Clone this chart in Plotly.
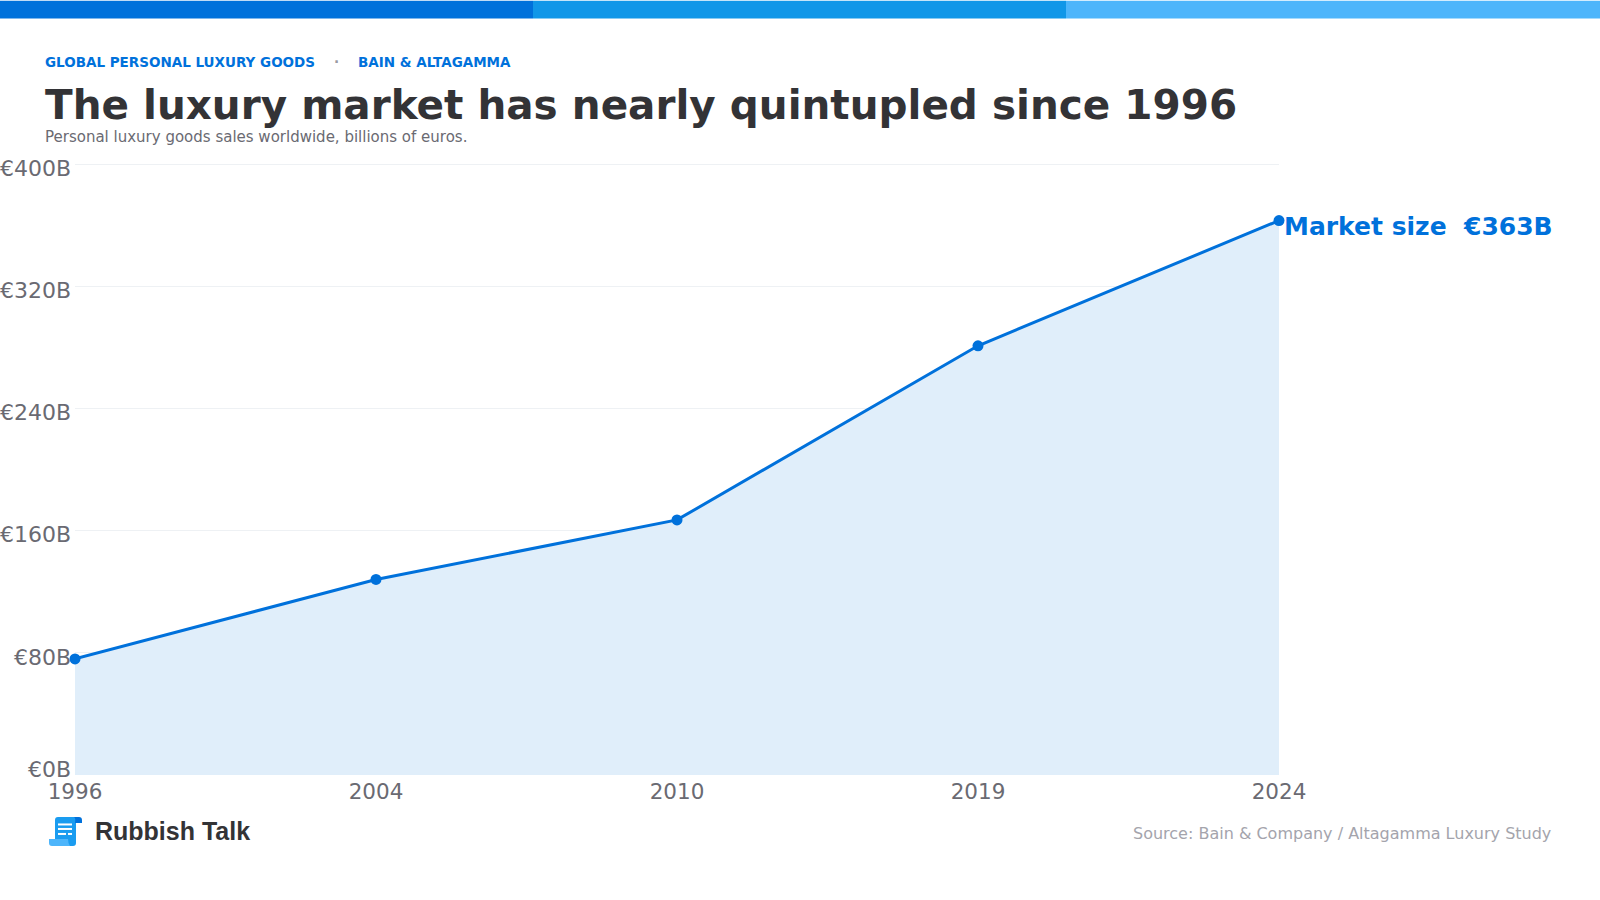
import plotly.graph_objects as go

# Market size, billions of euros
years = ["1996", "2004", "2010", "2019", "2024"]
market_size = [76, 128, 167, 281, 363]
y_ticks = [0, 80, 160, 240, 320, 400]
y_tick_labels = ["", "€80B", "€160B", "€240B", "€320B", "€400B"]
baseline_label = "€0B"

W, H = 1600, 900
LEFT, RIGHT, TOP, BOTTOM = 75, 1279, 163.5, 775
BLUE = "#0071db"
GREY = "#6a6a72"
FONT = "DejaVu Sans"


# Paper coordinates are relative to the plot area, so page pixels are converted here
def px(x):
    return (x - LEFT) / (RIGHT - LEFT)


def py(y):
    return (BOTTOM - y) / (BOTTOM - TOP)


def label(x, y, text, size, color, weight=400, anchor="left", family=FONT):
    return dict(
        xref="paper", yref="paper", x=px(x), y=py(y), text=text, showarrow=False,
        xanchor=anchor, yanchor="middle", align=anchor, borderpad=0,
        font=dict(family=family, size=size, color=color, weight=weight),
    )


def band(x0, x1, color):
    return dict(type="rect", xref="paper", yref="paper", x0=px(x0), x1=px(x1),
                y0=py(0), y1=py(18), fillcolor=color, line_width=0, layer="above")


def glyph(commands, color):
    parts = []
    for cmd, *pts in commands:
        coords = " ".join(f"{px(x):.5f},{py(y):.5f}" for x, y in pts)
        parts.append(f"{cmd} {coords}")
    return dict(type="path", xref="paper", yref="paper", path=" ".join(parts) + " Z",
                fillcolor=color, line_width=0, layer="above")


fig = go.Figure(go.Scatter(
    x=years, y=market_size, mode="lines+markers", fill="tozeroy",
    fillcolor="#e0eefa", line=dict(color=BLUE, width=3), marker=dict(color=BLUE, size=11),
    cliponaxis=False, hoverinfo="x+y",
))

# Scroll logo beside the brand name
logo = [
    glyph([("M", (55, 820)), ("Q", (55, 817), (58, 817)), ("L", (79, 817)), ("L", (79, 823)),
           ("L", (76, 823)), ("L", (76, 843)), ("Q", (76, 846), (73, 846)), ("L", (55, 846))],
          "#1a9cf0"),
    glyph([("M", (74, 817)), ("L", (79, 817)), ("Q", (82, 817), (82, 820)), ("L", (82, 823)),
           ("L", (75, 823)), ("Q", (76, 818), (74, 817))], BLUE),
    glyph([("M", (49, 839)), ("L", (68, 839)), ("Q", (68, 843), (70, 846)), ("L", (52, 846)),
           ("Q", (49, 846), (49, 843))], "#4db5fb"),
    glyph([("M", (58, 823.5)), ("L", (72, 823.5)), ("L", (72, 825.5)), ("L", (58, 825.5))], "#ffffff"),
    glyph([("M", (58, 828)), ("L", (72, 828)), ("L", (72, 830)), ("L", (58, 830))], "#ffffff"),
    glyph([("M", (58, 833)), ("L", (66, 833)), ("L", (66, 835)), ("L", (58, 835))], "#ffffff"),
    glyph([("M", (68, 833)), ("L", (72, 833)), ("L", (72, 835)), ("L", (68, 835))], "#ffffff"),
]

# Plotly leaves out the gridline at the very top of the range, so it is drawn as a shape
top_gridline = dict(type="line", xref="paper", yref="y", x0=0, x1=1,
                    y0=y_ticks[-1], y1=y_ticks[-1], line=dict(color="#eef1f4", width=2),
                    layer="below")

fig.update_layout(
    width=W, height=H, autosize=False, showlegend=False,
    paper_bgcolor="white", plot_bgcolor="white",
    margin=dict(l=LEFT, r=W - RIGHT, t=TOP, b=H - BOTTOM, pad=0),
    font=dict(family=FONT),
    xaxis=dict(
        type="category", categoryorder="array", categoryarray=years, range=[0, 4],
        showgrid=False, zeroline=False, showline=False, ticks="",
        tickfont=dict(size=21.5, color=GREY), ticklabelstandoff=1, automargin=False,
    ),
    yaxis=dict(
        range=[0, 400], tickvals=y_ticks, ticktext=y_tick_labels,
        showgrid=True, gridcolor="#eef1f4", gridwidth=1, zeroline=False,
        showline=False, ticks="", tickfont=dict(size=22, color=GREY),
        ticklabelshift=4, ticklabelstandoff=3, automargin=False,
    ),
    shapes=[
        top_gridline,
        band(0, 533, "#0071db"),
        band(533, 1066, "#1097e8"),
        band(1066, 1600, "#4db5fb"),
        *logo,
    ],
    annotations=[
        label(44, 61, "GLOBAL PERSONAL LUXURY GOODS", 13.5, BLUE, 700),
        label(336, 61, "·", 13.5, "#9a9aa2", 700, "center"),
        label(357, 61, "BAIN &amp; ALTAGAMMA", 13.5, BLUE, 700),
        label(44, 104, "The luxury market has nearly quintupled since 1996", 40.5, "#333336", 700),
        label(44, 136, "Personal luxury goods sales worldwide, billions of euros.", 15, GREY),
        label(1282.5, 226.5, "Market size  €363B", 25, BLUE, 700),
        label(94, 831, "Rubbish Talk", 25, "#333336", 700, family="Liberation Sans"),
        label(1552, 833.5, "Source: Bain &amp; Company / Altagamma Luxury Study", 16, "#a4a4ac", anchor="right"),
        dict(xref="paper", yref="y", x=px(71.5), y=y_ticks[0], yshift=6, text=baseline_label,
             showarrow=False, xanchor="right", yanchor="middle", borderpad=0,
             font=dict(family=FONT, size=22, color=GREY)),
    ],
)

fig.write_html("out.html")
